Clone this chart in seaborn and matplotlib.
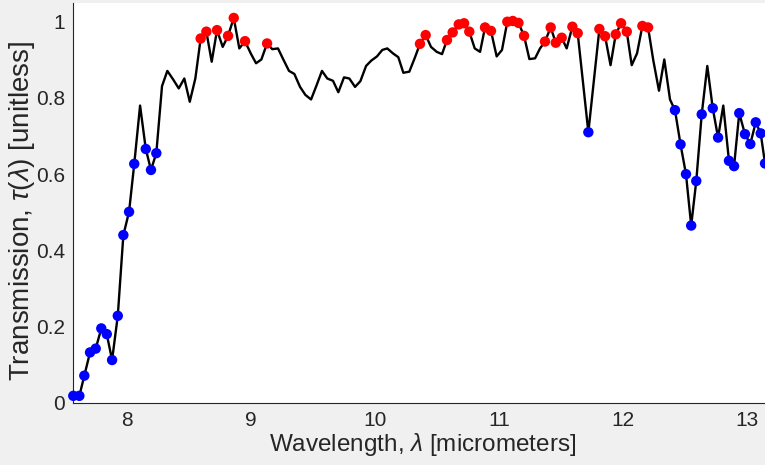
import matplotlib
matplotlib.use("Agg")
import matplotlib.pyplot as plt
import seaborn as sns
import pandas as pd

# wavelength samples [micrometers]
wavelength = [
    7.564, 7.613, 7.653, 7.699, 7.745, 7.790, 7.834, 7.877, 7.923, 7.968,
    8.014, 8.056, 8.103, 8.149, 8.191, 8.234, 8.280, 8.323, 8.369, 8.415,
    8.460, 8.504, 8.549, 8.592, 8.638, 8.681, 8.724, 8.770, 8.813, 8.859,
    8.904, 8.950, 8.996, 9.039, 9.082, 9.128, 9.170, 9.216, 9.259, 9.305,
    9.348, 9.394, 9.437, 9.483, 9.525, 9.571, 9.614, 9.660, 9.703, 9.749,
    9.792, 9.838, 9.881, 9.927, 9.969, 10.015, 10.058, 10.098, 10.144, 10.187,
    10.228, 10.276, 10.320, 10.362, 10.408, 10.451, 10.497, 10.540, 10.580, 10.626,
    10.675, 10.718, 10.760, 10.804, 10.847, 10.887, 10.935, 10.981, 11.024, 11.067,
    11.111, 11.157, 11.202, 11.245, 11.291, 11.331, 11.371, 11.417, 11.458, 11.506,
    11.546, 11.592, 11.635, 11.678, 11.721, 11.765, 11.810, 11.856, 11.900, 11.942,
    11.985, 12.031, 12.071, 12.114, 12.157, 12.203, 12.245, 12.291, 12.334, 12.380,
    12.420, 12.465, 12.509, 12.551, 12.592, 12.636, 12.681, 12.725, 12.768, 12.810,
    12.856, 12.897, 12.939, 12.985, 13.028, 13.072, 13.112, 13.147,
]

transmission = [
    0.018, 0.018, 0.071, 0.132, 0.142, 0.195, 0.180, 0.112, 0.228, 0.440,
    0.501, 0.627, 0.780, 0.666, 0.611, 0.655, 0.831, 0.871, 0.849, 0.825,
    0.851, 0.790, 0.851, 0.956, 0.974, 0.895, 0.978, 0.934, 0.963, 1.010,
    0.930, 0.949, 0.917, 0.891, 0.901, 0.943, 0.928, 0.930, 0.901, 0.871,
    0.863, 0.829, 0.808, 0.796, 0.831, 0.871, 0.851, 0.845, 0.815, 0.854,
    0.851, 0.829, 0.844, 0.884, 0.898, 0.909, 0.926, 0.930, 0.917, 0.907,
    0.866, 0.869, 0.905, 0.942, 0.965, 0.934, 0.921, 0.915, 0.952, 0.972,
    0.993, 0.996, 0.974, 0.930, 0.921, 0.985, 0.976, 0.909, 0.926, 1.000,
    1.002, 0.997, 0.963, 0.902, 0.904, 0.930, 0.948, 0.985, 0.945, 0.958,
    0.930, 0.987, 0.970, 0.840, 0.710, 0.845, 0.981, 0.962, 0.886, 0.967,
    0.996, 0.974, 0.886, 0.917, 0.989, 0.985, 0.899, 0.819, 0.901, 0.796,
    0.768, 0.678, 0.600, 0.465, 0.582, 0.757, 0.884, 0.773, 0.696, 0.780,
    0.635, 0.621, 0.760, 0.705, 0.679, 0.736, 0.707, 0.628,
]

# marker thresholds
high_cut = 0.94
low_cut = 0.775

x_ticks = [8, 9, 10, 11, 12, 13]
y_ticks = [0, 0.2, 0.4, 0.6, 0.8, 1]
y_tick_labels = ["0", "0.2", "0.4", "0.6", "0.8", "1"]

df = pd.DataFrame({"wl": wavelength, "tau": transmission})
df["band"] = "mid"
df.loc[df["tau"] > high_cut, "band"] = "high"
df.loc[df["tau"] < low_cut, "band"] = "low"

sns.set_style("white")
plt.rcParams["font.family"] = ["Liberation Sans", "DejaVu Sans"]
plt.rcParams["mathtext.fontset"] = "custom"
plt.rcParams["mathtext.it"] = "Liberation Sans:italic"
plt.rcParams["mathtext.rm"] = "Liberation Sans"
txt = "#262626"

fig = plt.figure(figsize=(7.65, 4.65), dpi=100, facecolor="#f0f0f0")
ax = fig.add_axes([73.3 / 765, 62.3 / 465, 698.3 / 765, 400 / 465])
ax.set_facecolor("white")

sns.lineplot(data=df, x="wl", y="tau", sort=False, estimator=None,
             color="black", linewidth=1.7, ax=ax, zorder=2)
sns.scatterplot(data=df[df["band"] != "mid"], x="wl", y="tau", hue="band",
                palette={"high": "#ff0000", "low": "#0000ff"},
                s=56, linewidth=0, ax=ax, zorder=3, legend=False,
                clip_on=False)

ax.set_xlim(7.564, 13.2)
ax.set_ylim(0, 1.05)
ax.set_xticks(x_ticks)
ax.set_xticklabels([str(t) for t in x_ticks])
ax.set_yticks(y_ticks)
ax.set_yticklabels(y_tick_labels)

for side in ["top", "right"]:
    ax.spines[side].set_visible(False)
for side in ["left", "bottom"]:
    ax.spines[side].set_color(txt)
    ax.spines[side].set_linewidth(0.8)

ax.tick_params(direction="in", length=5, width=0.8, colors=txt,
               labelsize=15, pad=6)
ax.set_xlabel(r"Wavelength, $\lambda$ [micrometers]", fontsize=17.5,
              color=txt, labelpad=1)
ax.set_ylabel(r"Transmission, $\tau(\lambda)$ [unitless]", fontsize=20,
              color=txt)
ax.yaxis.set_label_coords(-0.052, 0.48)

fig.savefig("out.png", dpi=100, facecolor=fig.get_facecolor())
